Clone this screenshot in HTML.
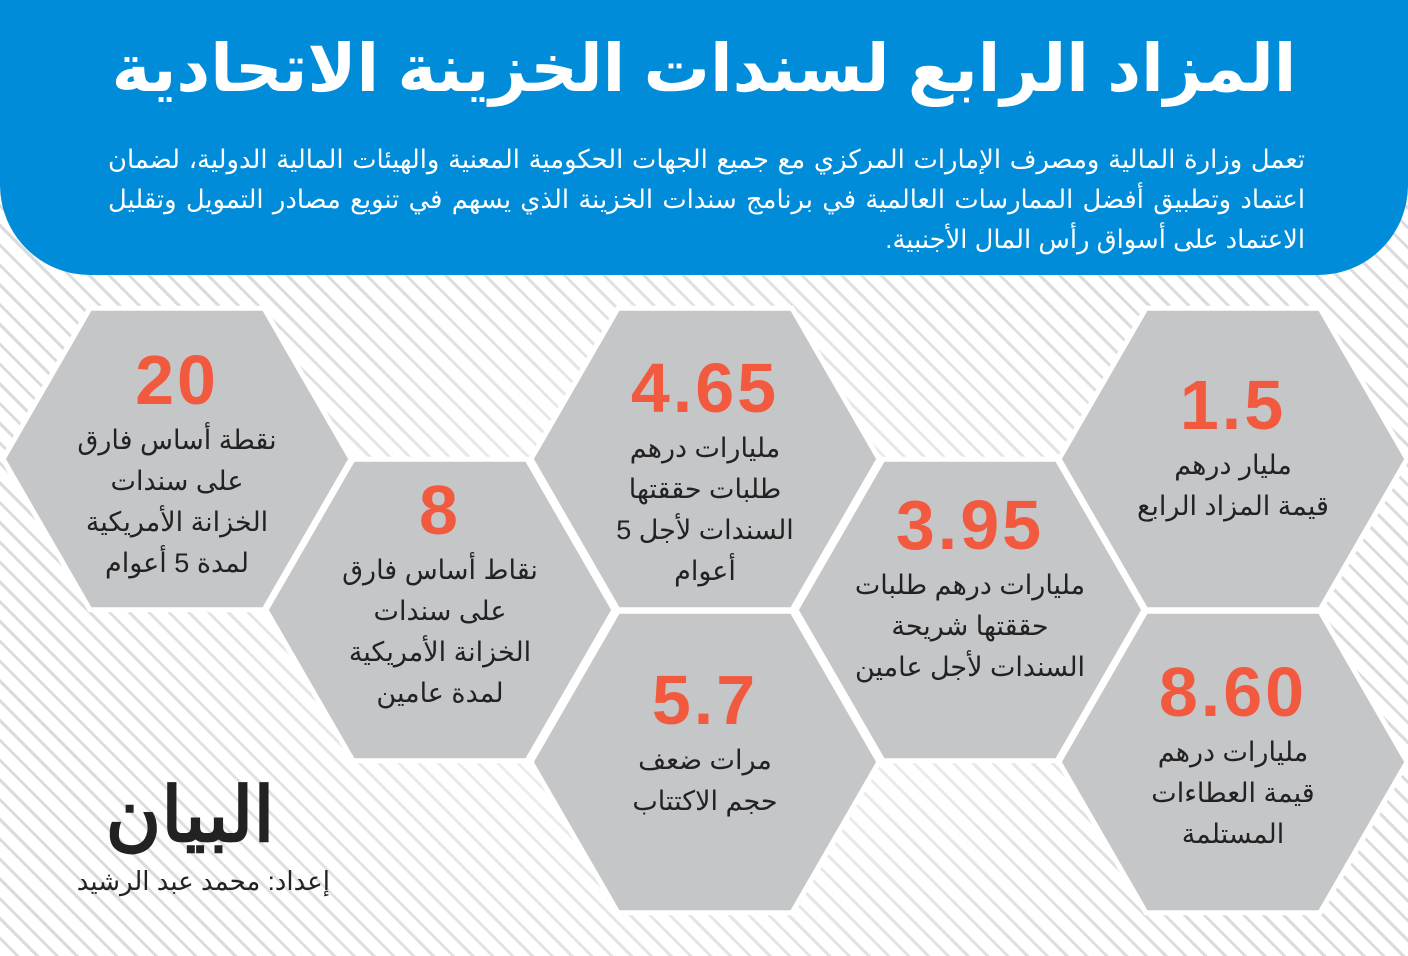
<!DOCTYPE html>
<html lang="ar"><head><meta charset="utf-8">
<style>
body{margin:0;width:1408px;height:956px;overflow:hidden;position:relative;background:#fff;font-family:"Liberation Sans","DejaVu Sans",sans-serif}
.bg{position:absolute;left:0;top:0;width:1408px;height:956px;background:repeating-linear-gradient(45deg,#fff 0 11px,#d4d5d7 11px 14px);}
.fade{position:absolute;left:0;top:0;width:1408px;height:956px;background:radial-gradient(ellipse 650px 450px at 700px 640px,rgba(255,255,255,.8),rgba(255,255,255,0.15));}
.hdr{position:absolute;left:0;top:-80px;width:1408px;height:355px;background:#008cd8;border-radius:0 0 90px 90px}
.title{position:absolute;left:0;width:1408px;top:30px;text-align:center;color:#fff;font-size:66px;font-weight:bold;direction:rtl}
.pl{position:absolute;left:108px;width:1197px;color:#fff;font-size:25.8px;line-height:40px;direction:rtl;text-align:justify;text-align-last:justify;white-space:nowrap}
.pl.last{text-align-last:right}
svg{position:absolute;left:0;top:0}
.t{position:absolute;width:300px;text-align:center;direction:rtl;color:#222;font-size:27px;line-height:41px}
.n{display:block;color:#f25a40;font-weight:bold;font-size:70px;line-height:80px;direction:ltr;letter-spacing:3px}
.logo{position:absolute;left:100px;top:770px;width:180px;text-align:center;font-family:"Liberation Serif","DejaVu Serif",serif;font-size:76px;font-weight:bold;color:#222;direction:rtl}
.by{position:absolute;left:40px;top:866px;width:290px;text-align:right;font-size:26px;color:#222;direction:rtl}
</style></head><body>
<div class="bg"></div><div class="fade"></div>
<div class="hdr"></div>
<div class="title">المزاد الرابع لسندات الخزينة الاتحادية</div>
<div class="pl" style="top:140px">تعمل وزارة المالية ومصرف الإمارات المركزي مع جميع الجهات الحكومية المعنية والهيئات المالية الدولية، لضمان</div>
<div class="pl" style="top:180px">اعتماد وتطبيق أفضل الممارسات العالمية في برنامج سندات الخزينة الذي يسهم في تنويع مصادر التمويل وتقليل</div>
<div class="pl last" style="top:220px">الاعتماد على أسواق رأس المال الأجنبية.</div>
<svg width="1408" height="956" id="s"></svg>
<script>
var c=[[177,459],[440,610],[705,459],[705,762],[970,610],[1233,459],[1233,762]],R=174,s='';
c.forEach(function(p){var pts=[];for(var i=0;i<6;i++){var a=Math.PI/3*i;pts.push((p[0]+R*Math.cos(a)).toFixed(1)+','+(p[1]+R*Math.sin(a)).toFixed(1));}s+='<polygon points="'+pts.join(' ')+'" fill="#c5c6c8" stroke="#fff" stroke-width="5"/>';});
document.getElementById('s').innerHTML=s;
</script>
<div class="t" style="left:27px;top:340px"><span class="n">20</span>نقطة أساس فارق<br>على سندات<br>الخزانة الأمريكية<br>لمدة 5 أعوام</div>
<div class="t" style="left:290px;top:470px"><span class="n">8</span>نقاط أساس فارق<br>على سندات<br>الخزانة الأمريكية<br>لمدة عامين</div>
<div class="t" style="left:555px;top:348px"><span class="n">4.65</span>مليارات درهم<br>طلبات حققتها<br>السندات لأجل 5<br>أعوام</div>
<div class="t" style="left:555px;top:660px"><span class="n">5.7</span>مرات ضعف<br>حجم الاكتتاب</div>
<div class="t" style="left:820px;top:485px"><span class="n">3.95</span>مليارات درهم طلبات<br>حققتها شريحة<br>السندات لأجل عامين</div>
<div class="t" style="left:1083px;top:365px"><span class="n">1.5</span>مليار درهم<br>قيمة المزاد الرابع</div>
<div class="t" style="left:1083px;top:652px"><span class="n">8.60</span>مليارات درهم<br>قيمة العطاءات<br>المستلمة</div>
<div class="logo">البيان</div>
<div class="by">إعداد: محمد عبد الرشيد</div>
</body></html>
